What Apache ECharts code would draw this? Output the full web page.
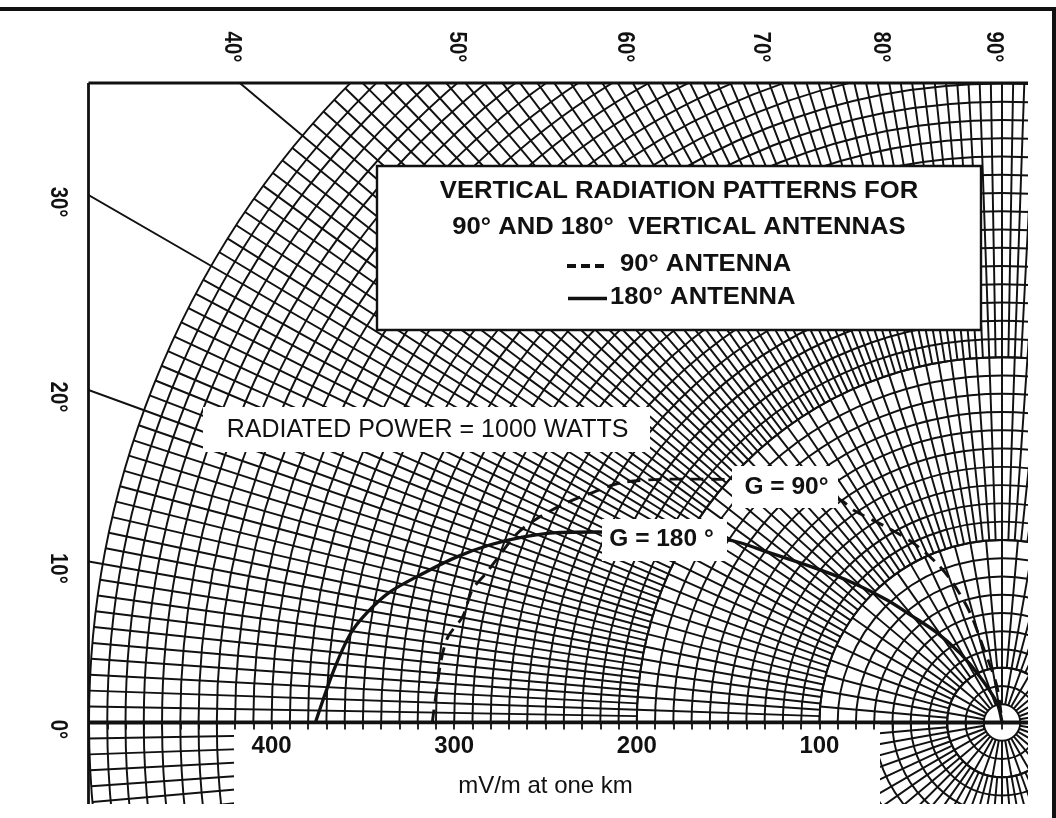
<!DOCTYPE html>
<html>
<head>
<meta charset="utf-8">
<script src="https://cdn.jsdelivr.net/npm/echarts@6/dist/echarts.min.js"></script>
<style>
  html, body { margin: 0; padding: 0; background: #fff; }
  #chart { width: 1056px; height: 818px; }
</style>
</head>
<body>
<div id="chart"></div>
<script>
// Vertical radiation patterns: elevation angle (deg) and field (mV/m at one km)
const angle90  = [0, 3.6, 6.4, 8.8, 11.1, 14.1, 16.2, 17.8, 21.3, 24.0, 26.8, 29.1, 32.3, 37.1, 41.7, 53.9, 55.0, 59.5, 63.6, 67.8, 70.6, 73.7, 75.9, 82.0, 90];
const field90  = [312, 310, 309, 307, 301, 299, 294, 291, 285, 277, 267, 258, 246, 221, 200, 151, 142, 124, 110, 94, 81, 63, 43, 20, 0];
const angle180 = [0, 4.5, 7.8, 9.8, 12.0, 14.5, 16.9, 19.1, 21.2, 23.1, 25.2, 33.6, 36.2, 40.0, 43.1, 46.8, 49.9, 54.0, 58.9, 64.2, 75.6, 90];
const field180 = [376, 367, 360, 353, 343, 327, 312, 297, 281, 265, 245, 181, 157, 130, 112, 92, 76, 61, 44, 28, 11, 0];

// Tick labels
const fieldTicks = [100, 200, 300, 400];
const sideAngleTicks = [0, 10, 20, 30];
const topAngleTicks = [40, 50, 60, 70, 80, 90];

// Texts
const titleLines = ['VERTICAL RADIATION PATTERNS FOR', '90° AND 180°  VERTICAL ANTENNAS'];
const legendNames = ['90° ANTENNA', '180° ANTENNA'];
const powerNote = 'RADIATED POWER = 1000 WATTS';
const curveLabels = ['G = 90°', 'G = 180 °'];
const axisName = 'mV/m at one km';

// Layout
const CX = 1002, CY = 722.5;          // antenna base (pattern origin)
const PX = 1.826;                     // pixels per mV/m
const FRAME = { left: 88.5, top: 83, right: 1028, bottom: 804 };
const FONT = '"Liberation Sans", Arial, Helvetica, sans-serif';
const INK = '#111111';
const GRID_W = 1.95;

// Polar paper: rings with their own radial-rule spacing (degrees)
const rings = [
  { from: 10,  to: 30,  step: 10, circles: true },
  { from: 30,  to: 100, step: 5,  circles: true },
  { from: 100, to: 200, step: 2,  circles: true },
  { from: 200, to: 500, step: 1,  circles: true },
  { from: 500, to: 800, step: 10, circles: false }
];

const hidden = { show: false };
const option = {
  animation: false,
  backgroundColor: '#ffffff',
  polar: [],
  angleAxis: [],
  radiusAxis: [],
  grid: { left: CX - 500 * PX, width: 500 * PX, top: CY - 100, height: 100 },
  xAxis: {
    type: 'value', min: 0, max: 500, interval: 100, inverse: true, position: 'bottom', z: 40,
    axisLine: hidden, splitLine: hidden,
    axisTick: { show: true, length: 7, lineStyle: { color: INK, width: 1.8 } },
    minorTick: { show: true, splitNumber: 10, length: 7, lineStyle: { color: INK, width: 1.8 } },
    minorSplitLine: hidden,
    axisLabel: {
      margin: 12, color: INK, fontSize: 24, fontWeight: 'bold', fontFamily: FONT,
      formatter: v => (fieldTicks.indexOf(v) >= 0 ? String(v) : '')
    },
    name: axisName, nameLocation: 'middle', nameGap: 52,
    nameTextStyle: { color: INK, fontSize: 24, fontFamily: FONT }
  },
  yAxis: { type: 'value', min: 0, max: 1, show: false },
  series: []
};

rings.forEach((ring, i) => {
  option.polar.push({ center: [CX, CY], radius: [ring.from * PX, ring.to * PX] });
  option.angleAxis.push({
    polarIndex: i, type: 'value', min: 0, max: 360, interval: ring.step,
    startAngle: 180, clockwise: true, z: 1,
    axisLine: hidden, axisTick: hidden, axisLabel: hidden,
    splitLine: { show: true, lineStyle: { color: INK, width: GRID_W } }
  });
  option.radiusAxis.push({
    polarIndex: i, type: 'value', min: ring.from, max: ring.to, interval: 10, z: 1,
    axisLine: hidden, axisTick: hidden, axisLabel: hidden,
    splitLine: { show: ring.circles, lineStyle: { color: INK, width: GRID_W } }
  });
});

// Pattern coordinate system: carries the curves and the heavy 0° base line
const P = rings.length;
option.polar.push({ center: [CX, CY], radius: [0, 800 * PX] });
option.angleAxis.push({
  polarIndex: P, type: 'value', min: 0, max: 360, interval: 180,
  startAngle: 180, clockwise: true, z: 15,
  axisLine: hidden, axisTick: hidden, axisLabel: hidden,
  splitLine: { show: true, lineStyle: { color: INK, width: 3.8 } }
});
option.radiusAxis.push({
  polarIndex: P, type: 'value', min: 0, max: 800, z: 15,
  axisLine: hidden, axisTick: hidden, axisLabel: hidden, splitLine: hidden
});

option.series.push({
  name: legendNames[0], type: 'line', coordinateSystem: 'polar', polarIndex: P,
  data: angle90.map((a, i) => [field90[i], a]),
  symbol: 'none', smooth: 0.3, clip: false, z: 40,
  lineStyle: { color: INK, width: 2.9, type: [13, 8] }
});
option.series.push({
  name: legendNames[1], type: 'line', coordinateSystem: 'polar', polarIndex: P,
  data: angle180.map((a, i) => [field180[i], a]),
  symbol: 'none', smooth: 0.3, clip: false, z: 40,
  lineStyle: { color: INK, width: 3.3 }
});

const chart = echarts.init(document.getElementById('chart'));
chart.setOption(option);

// Angle labels sit where each 10° ray meets the frame
const toPx = (r, a) => chart.convertToPixel({ polarIndex: P }, [r, a]);
const origin = toPx(0, 0);
function frameHit(a) {
  const p = toPx(500, a);
  const dx = p[0] - origin[0], dy = p[1] - origin[1];
  const tLeft = dx < -1e-6 ? (FRAME.left - origin[0]) / dx : Infinity;
  const tTop = dy < -1e-6 ? (FRAME.top - origin[1]) / dy : Infinity;
  const t = Math.min(tLeft, tTop);
  return [origin[0] + dx * t, origin[1] + dy * t];
}

const text = (str, x, y, o) => Object.assign({
  type: 'text', x, y, z: 55, silent: true,
  style: {
    text: str, fill: INK, fontFamily: FONT, fontSize: o.size, fontWeight: o.weight || 'normal',
    align: o.align || 'center', verticalAlign: 'middle'
  }
}, o.extra || {});
const rect = (x, y, w, h, style, z) => ({ type: 'rect', z, silent: true, shape: { x, y, width: w, height: h }, style });
const line = (x1, y1, x2, y2, style, z) => ({ type: 'line', z, silent: true, shape: { x1, y1, x2, y2 }, style });

const white = { fill: '#ffffff' };
const g = [];
// paper outside the plotting frame, and the strip under the base line kept clear for the scale
g.push(rect(0, 0, FRAME.left, 818, white, 20));
g.push(rect(0, 0, 1056, FRAME.top, white, 20));
g.push(rect(FRAME.right, 0, 1056 - FRAME.right, 818, white, 20));
g.push(rect(0, FRAME.bottom, 1056, 818 - FRAME.bottom, white, 20));
g.push(rect(234, CY + 2, 880 - 234, FRAME.bottom - CY - 2, white, 20));

// frame rules
g.push(line(0, 9, 1056, 9, { stroke: INK, lineWidth: 4 }, 60));
g.push(line(1054, 9, 1054, 818, { stroke: INK, lineWidth: 4 }, 60));
g.push(line(FRAME.left, FRAME.top, FRAME.left, FRAME.bottom, { stroke: INK, lineWidth: 2.8 }, 60));
g.push(line(FRAME.left, FRAME.top, FRAME.right, FRAME.top, { stroke: INK, lineWidth: 2.8 }, 60));

// angle labels
const angleLabelStyle = { size: 24, weight: 'bold', extra: { rotation: -Math.PI / 2, scaleX: 0.85 } };
sideAngleTicks.forEach(a => {
  const h = frameHit(a);
  g.push(text(a + '°', FRAME.left - 31, h[1] + 7, angleLabelStyle));
});
topAngleTicks.forEach(a => {
  const h = frameHit(a);
  g.push(text(a + '°', h[0] - 8.5, FRAME.top - 36, angleLabelStyle));
});

// title / legend box
g.push(rect(377, 166, 604, 164, { fill: '#ffffff', stroke: INK, lineWidth: 2.4 }, 50));
g.push(text(titleLines[0], 679, 192, { size: 23.3, weight: 'bold', extra: { scaleX: 1.1 } }));
g.push(text(titleLines[1], 679, 228, { size: 23.3, weight: 'bold', extra: { scaleX: 1.1 } }));
g.push(line(567, 266, 605, 266, { stroke: INK, lineWidth: 4, lineDash: [9, 5] }, 55));
g.push(text(legendNames[0], 620, 265, { size: 23.3, weight: 'bold', align: 'left', extra: { scaleX: 1.1 } }));
g.push(line(568, 298.5, 607, 298.5, { stroke: INK, lineWidth: 3.4 }, 55));
g.push(text(legendNames[1], 610, 298, { size: 23.3, weight: 'bold', align: 'left', extra: { scaleX: 1.1 } }));

// notes on the paper
g.push(rect(203, 407, 447, 45, white, 50));
g.push(text(powerNote, 427.5, 430, { size: 25 }));
g.push(rect(732, 466, 106, 42, white, 50));
g.push(text(curveLabels[0], 786.5, 487, { size: 24.5, weight: 'bold' }));
g.push(rect(602, 519, 125, 42, white, 50));
g.push(text(curveLabels[1], 661.5, 539, { size: 24.5, weight: 'bold' }));

chart.setOption({ graphic: { elements: g } });
</script>
</body>
</html>
